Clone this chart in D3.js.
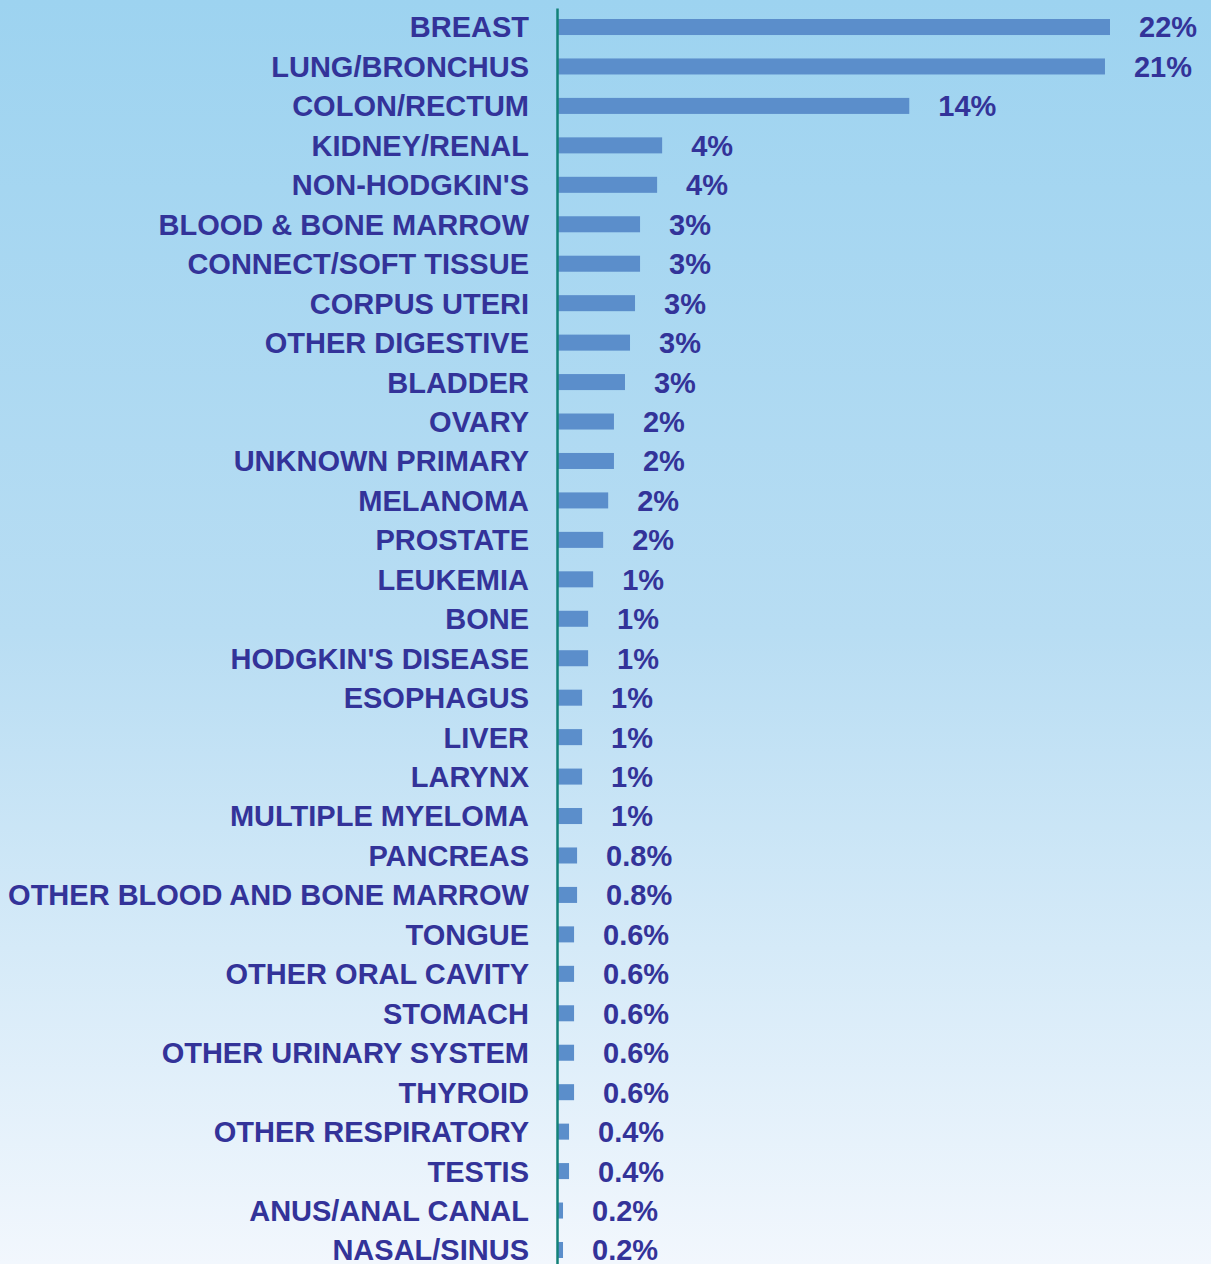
<!DOCTYPE html>
<html>
<head>
<meta charset="utf-8">
<script src="https://cdn.jsdelivr.net/npm/d3@7"></script>
<style>
  html, body { margin: 0; padding: 0; }
  body { width: 1211px; height: 1264px; overflow: hidden; }
</style>
</head>
<body>
<svg id="chart" width="1211" height="1264"></svg>
<script>
const sites = [
  "BREAST", "LUNG/BRONCHUS", "COLON/RECTUM", "KIDNEY/RENAL", "NON-HODGKIN'S",
  "BLOOD & BONE MARROW", "CONNECT/SOFT TISSUE", "CORPUS UTERI", "OTHER DIGESTIVE",
  "BLADDER", "OVARY", "UNKNOWN PRIMARY", "MELANOMA", "PROSTATE", "LEUKEMIA", "BONE",
  "HODGKIN'S DISEASE", "ESOPHAGUS", "LIVER", "LARYNX", "MULTIPLE MYELOMA", "PANCREAS",
  "OTHER BLOOD AND BONE MARROW", "TONGUE", "OTHER ORAL CAVITY", "STOMACH",
  "OTHER URINARY SYSTEM", "THYROID", "OTHER RESPIRATORY", "TESTIS",
  "ANUS/ANAL CANAL", "NASAL/SINUS"
];
// percent share
const shares = [
  22.0, 21.8, 14.0, 4.15, 3.95, 3.27, 3.27, 3.07, 2.87, 2.67, 2.23, 2.23, 2.0, 1.8,
  1.4, 1.2, 1.2, 0.96, 0.96, 0.96, 0.96, 0.76, 0.76, 0.64, 0.64, 0.64, 0.64, 0.64,
  0.44, 0.44, 0.2, 0.2
];
const shareLabels = [
  "22%", "21%", "14%", "4%", "4%", "3%", "3%", "3%", "3%", "3%", "2%", "2%", "2%", "2%",
  "1%", "1%", "1%", "1%", "1%", "1%", "1%", "0.8%", "0.8%", "0.6%", "0.6%", "0.6%",
  "0.6%", "0.6%", "0.4%", "0.4%", "0.2%", "0.2%"
];

const svg = d3.select("#chart");
const width = +svg.attr("width");
const height = +svg.attr("height");
const ink = "#333399";
const font = "'Liberation Sans', Arial, sans-serif";

// background gradient
const grad = svg.append("defs").append("linearGradient")
  .attr("id", "bg").attr("x1", 0).attr("y1", 0).attr("x2", 0).attr("y2", 1);
grad.append("stop").attr("offset", "0%").attr("stop-color", "#9dd3f0");
grad.append("stop").attr("offset", "50%").attr("stop-color", "#b8ddf3");
grad.append("stop").attr("offset", "100%").attr("stop-color", "#f2f7fd");
svg.append("rect").attr("width", width).attr("height", height).attr("fill", "url(#bg)");

const x0 = 558;
const x = d3.scaleLinear().domain([0, 22]).range([x0, 1110]);
const y = d3.scaleBand()
  .domain(sites)
  .range([8, 1269])
  .paddingInner(0.594)
  .paddingOuter(0.279);

svg.append("g")
  .selectAll("rect")
  .data(sites)
  .join("rect")
  .attr("x", x0)
  .attr("y", d => y(d))
  .attr("width", (d, i) => x(shares[i]) - x0)
  .attr("height", y.bandwidth())
  .attr("fill", "#5b8ecb");

svg.append("g")
  .selectAll("text")
  .data(sites)
  .join("text")
  .attr("x", (d, i) => x(shares[i]) + 29)
  .attr("y", d => y(d) + y.bandwidth() / 2)
  .attr("dy", "0.36em")
  .attr("fill", ink)
  .style("font", `bold 29px ${font}`)
  .text((d, i) => shareLabels[i]);

const axis = svg.append("g")
  .attr("transform", `translate(${x0 - 1},0)`)
  .call(d3.axisLeft(y).tickSize(0).tickSizeOuter(0).tickPadding(28));
axis.select(".domain").attr("stroke", "#138278").attr("stroke-width", 2.5);
axis.selectAll(".tick text")
  .attr("fill", ink)
  .attr("dy", "0.36em")
  .style("font", `bold 29px ${font}`);
</script>
</body>
</html>
